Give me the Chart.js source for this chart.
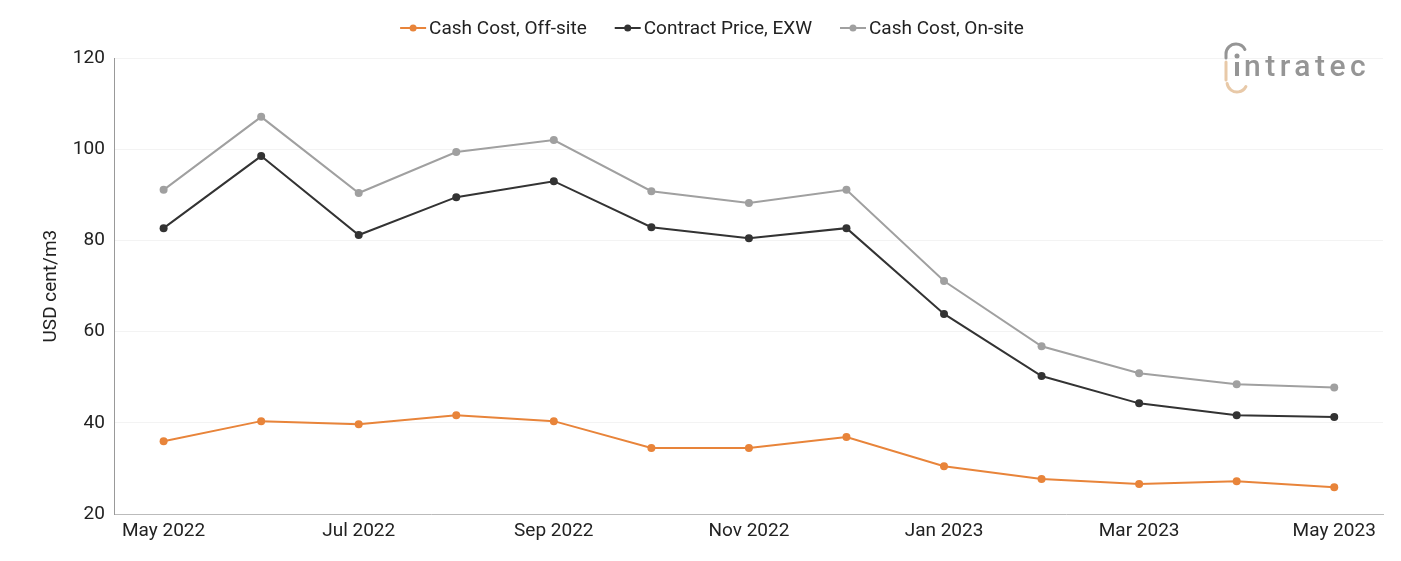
<!DOCTYPE html>
<html><head><meta charset="utf-8">
<script src="https://cdn.jsdelivr.net/npm/chart.js@4/dist/chart.umd.min.js"></script>
<style>html,body{margin:0;padding:0;background:#fff}#wrap{width:1401px;height:561px;position:relative}</style>
</head><body><div id="wrap"><canvas id="c" width="1401" height="561"></canvas></div>
<script>
const categories = ["May 2022","Jun 2022","Jul 2022","Aug 2022","Sep 2022","Oct 2022","Nov 2022","Dec 2022","Jan 2023","Feb 2023","Mar 2023","Apr 2023","May 2023"];
const cashCostOffsite = [36.0,40.4,39.7,41.7,40.4,34.5,34.5,36.9,30.5,27.7,26.6,27.2,25.9];
const contractPriceEXW = [82.7,98.5,81.2,89.5,93.0,82.9,80.5,82.7,63.9,50.3,44.3,41.7,41.3];
const cashCostOnsite = [91.1,107.1,90.4,99.4,102.0,90.8,88.2,91.1,71.1,56.8,50.9,48.5,47.8];
const yTicks = [20,40,60,80,100,120];
const seriesNames = ['Cash Cost, Off-site','Contract Price, EXW','Cash Cost, On-site'];
const colors=['#E8843A','#333333','#A0A0A0'];

const legendPlugin={id:'customLegend',afterDraw(chart){
  const c=chart.ctx;c.save();
  c.font='19px Roboto';c.textBaseline='middle';
  const mw=26,gap=3,sep=28,y=28;
  const widths=seriesNames.map(t=>c.measureText(t).width);
  const total=widths.reduce((a,w)=>a+mw+gap+w,0)+sep*(seriesNames.length-1);
  let x=712-total/2;
  seriesNames.forEach((t,i)=>{
    c.strokeStyle=colors[i];c.fillStyle=colors[i];c.lineWidth=2;
    c.beginPath();c.moveTo(x,y);c.lineTo(x+mw,y);c.stroke();
    c.beginPath();c.arc(x+mw/2,y,3.5,0,Math.PI*2);c.fill();
    c.fillStyle='#222';c.fillText(t,x+mw+gap,y+1);
    x+=mw+gap+widths[i]+sep;
  });
  c.restore();
}};
const logo={id:'logo',afterDraw(chart){
  const c=chart.ctx;c.save();
  c.fillStyle='#959595';c.font='500 30px Roboto';c.textBaseline='alphabetic';
  if('letterSpacing' in c) c.letterSpacing='4.5px';
  c.fillText('ntratec',1244,76);
  c.letterSpacing='0px';
  c.fillRect(1235,62,4,14);
  c.beginPath();c.arc(1237,56,2.5,0,Math.PI*2);c.fill();
  c.strokeStyle='#959595';c.lineWidth=3;c.lineCap='round';
  c.beginPath();c.moveTo(1226,58);c.arc(1236,54,10,Math.PI,Math.PI*1.85);c.stroke();
  c.strokeStyle='#E8C9A8';
  c.beginPath();c.moveTo(1226,62);c.lineTo(1226,80);c.stroke();
  c.beginPath();c.arc(1237,82,10,Math.PI*0.95,Math.PI*0.15,true);c.stroke();
  c.restore();
}};
new Chart(document.getElementById('c'),{
  type:'line',
  data:{labels:categories,datasets:[
    {label:seriesNames[0],data:cashCostOffsite,borderColor:colors[0],backgroundColor:colors[0]},
    {label:seriesNames[1],data:contractPriceEXW,borderColor:colors[1],backgroundColor:colors[1]},
    {label:seriesNames[2],data:cashCostOnsite,borderColor:colors[2],backgroundColor:colors[2]}
  ].map(d=>({...d,borderWidth:2,pointRadius:4,pointHoverRadius:4,pointBorderWidth:0,pointBackgroundColor:d.borderColor,tension:0}))},
  options:{
    responsive:false,animation:false,
    layout:{padding:{left:36,right:18,top:58,bottom:12}},
    plugins:{
      legend:{display:false},
      tooltip:{enabled:false}
    },
    scales:{
      x:{offset:true,grid:{display:false,drawTicks:false},border:{color:'#bbb'},
         ticks:{color:'#222',font:{family:'Roboto',size:19},maxRotation:0,autoSkip:false,padding:6,
           callback:function(v,i){return i%2===0?categories[i]:'';}}},
      y:{min:20,max:120,afterBuildTicks:ax=>{ax.ticks=yTicks.map(v=>({value:v}));},
         grid:{color:'#f3f3f3',drawTicks:false},border:{color:'#999'},
         ticks:{color:'#222',font:{family:'Roboto',size:19},padding:10},
         title:{display:true,text:'USD cent/m3',color:'#222',font:{family:'Roboto',size:19},padding:{bottom:0}}}
    }
  },
  plugins:[legendPlugin,logo]
});
</script></body></html>
